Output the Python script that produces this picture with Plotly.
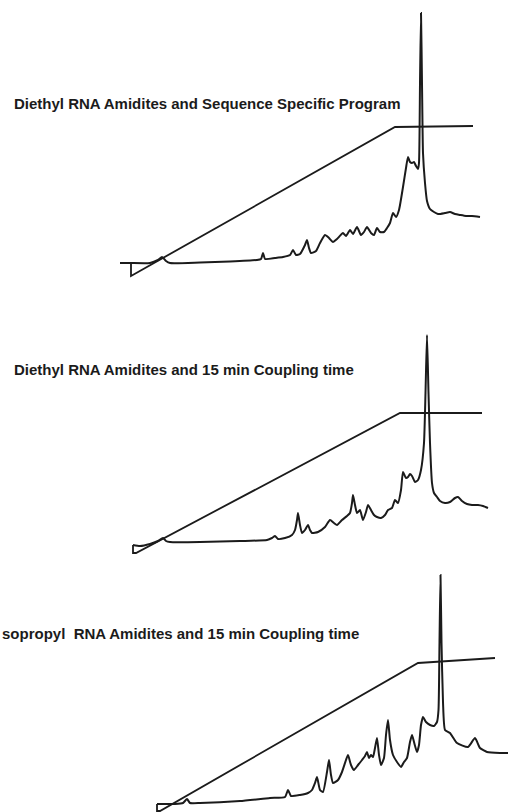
import plotly.graph_objects as go

# ---------------- data (retention time in min, detector response in mAU) ----------------
# Panel 1: Diethyl RNA amidites, sequence specific program
p1_time = [12.0, 13.0, 15.0, 15.8, 16.2, 16.6, 17.0, 20.0, 23.0, 25.7, 26.1, 26.3, 26.5, 27.5,
           28.3, 29.0, 29.3, 29.6, 30.0, 30.5, 30.7, 30.9, 31.1, 31.6, 32.0, 32.5, 32.9, 33.3,
           33.7, 34.3, 34.6, 35.0, 35.3, 35.7, 36.1, 36.4, 36.7, 37.1, 37.4, 37.7, 38.0, 38.4,
           38.7, 39.0, 39.3, 39.6, 39.9, 40.3, 40.6, 40.8, 41.0, 41.2, 41.4, 41.6, 41.8, 41.9,
           42.0, 42.1, 42.2, 42.3, 42.5, 42.7, 43.0, 43.4, 43.8, 44.5, 45.0, 45.5, 46.0, 46.6,
           47.2, 48.0]
p1_signal = [0, 0, 0, 3, 6, 2, 0, 0.5, 1.5, 3, 4, 10, 4, 5,
             6, 8, 13, 8, 9, 18, 23, 15, 10, 12, 20, 28, 25, 21,
             24, 30, 27, 33, 29, 36, 28, 31, 36, 30, 28, 35, 31, 31,
             35, 40, 50, 46, 53, 76, 95, 106, 101, 100, 101, 97, 94, 100,
             180, 250, 180, 110, 80, 62, 54, 51, 49, 50, 51, 49, 48, 47,
             47, 46]
p1_grad_time = [12.2, 13.1, 13.1, 39.5, 47.3]
p1_grad = [0, 0, -13, 136, 137]

# Panel 2: Diethyl RNA amidites, 15 min coupling time
p2_time = [13.3, 14.0, 15.0, 15.8, 16.3, 16.6, 17.0, 20.0, 24.0, 26.7, 27.2, 27.5, 27.8, 28.5,
           29.2, 29.5, 29.7, 29.8, 30.0, 30.2, 30.5, 30.8, 31.0, 31.2, 31.8, 32.5, 33.0, 33.4,
           33.7, 34.2, 34.7, 35.0, 35.2, 35.3, 35.5, 35.7, 36.0, 36.3, 36.6, 36.8, 37.1, 37.4,
           37.7, 38.1, 38.5, 38.8, 39.2, 39.5, 39.8, 40.1, 40.3, 40.6, 40.8, 41.0, 41.2, 41.5,
           41.8, 42.1, 42.4, 42.55, 42.7, 42.85, 43.0, 43.2, 43.4, 43.7, 44.0, 44.5, 45.0, 45.5,
           45.8, 46.2, 46.7, 47.2, 47.8, 48.3, 48.8]
p2_signal = [-2, -3, -1, 2, 5, 2, 1, 1, 2, 3, 5, 7, 4, 5,
             8, 13, 23, 30, 18, 10, 13, 18, 13, 10, 11, 16, 23, 20,
             18, 23, 27, 30, 40, 48, 38, 30, 33, 23, 31, 38, 33, 28,
             26, 25, 28, 33, 35, 43, 40, 53, 71, 65, 66, 69, 67, 61,
             63, 73, 100, 150, 208, 150, 100, 60, 50, 46, 42, 40, 41, 45,
             46, 42, 39, 38, 38, 37, 35]
p2_grad_time = [13.3, 13.3, 13.6, 40.0, 48.2]
p2_grad = [-2, -10, -10, 130, 130]

# Panel 3: Isopropyl RNA amidites, 15 min coupling time
p3_time = [15.7, 17.5, 18.3, 18.7, 19.0, 20.0, 24.0, 27.0, 28.5, 28.8, 29.1, 30.0, 30.8, 31.2,
           31.5, 31.7, 32.0, 32.3, 32.7, 32.9, 33.1, 33.3, 33.8, 34.2, 34.6, 34.8, 35.1, 35.4,
           35.8, 36.2, 36.5, 36.7, 36.9, 37.1, 37.3, 37.5, 37.7, 37.9, 38.1, 38.4, 38.6, 38.8,
           39.0, 39.3, 39.7, 40.1, 40.4, 40.7, 41.0, 41.2, 41.4, 41.7, 41.9, 42.1, 42.3, 42.6,
           43.0, 43.4, 43.7, 43.85, 43.95, 44.05, 44.15, 44.3, 44.5, 45.0, 45.7, 46.8, 47.5, 48.0,
           48.7, 50.0, 50.8]
p3_signal = [-2, -2, -1, 3, -1, -1, 1, 4, 5, 12, 6, 7, 9, 12,
             19, 25, 12, 10, 30, 42, 27, 19, 22, 30, 42, 47, 37, 32,
             37, 42, 46, 50, 44, 47, 45, 54, 64, 47, 37, 44, 67, 82,
             62, 47, 40, 35, 40, 44, 60, 67, 60, 50, 57, 77, 85, 80,
             77, 76, 80, 92, 160, 227, 160, 100, 72, 69, 59, 55, 64, 54,
             50, 49, 49]
p3_grad_time = [15.7, 15.7, 16.0, 41.8, 49.5]
p3_grad = [-2, -9, -9, 139, 144]

titles = [
    "Diethyl RNA Amidites and Sequence Specific Program",
    "Diethyl RNA Amidites and 15 min Coupling time",
    "sopropyl\u00a0 RNA Amidites and 15 min Coupling time",
]

# ---------------- layout constants ----------------
W, H = 508, 812
INK = "#1b1b1b"
LW = 2.0
# pixel bands (top, bottom) and baseline pixel for each panel
bands = [(0, 290, 263), (300, 560, 543), (565, 812, 802)]
title_pos = [(12, 103.5), (12, 369.5), (0, 633)]

fig = go.Figure()
series = [
    (p1_time, p1_signal, p1_grad_time, p1_grad),
    (p2_time, p2_signal, p2_grad_time, p2_grad),
    (p3_time, p3_signal, p3_grad_time, p3_grad),
]
for i, (t, s, gt, g) in enumerate(series):
    yref = "y" if i == 0 else f"y{i+1}"
    fig.add_trace(go.Scatter(x=gt, y=g, mode="lines", xaxis="x", yaxis=yref,
                             line=dict(color=INK, width=LW - 0.2), hoverinfo="skip",
                             showlegend=False))
    fig.add_trace(go.Scatter(x=t, y=s, mode="lines", xaxis="x", yaxis=yref,
                             line=dict(color=INK, width=LW, shape="spline", smoothing=0.5),
                             hoverinfo="skip", showlegend=False))

axis_common = dict(visible=False, showgrid=False, zeroline=False, fixedrange=True)
layout = dict(
    width=W, height=H,
    margin=dict(l=0, r=0, t=0, b=0),
    paper_bgcolor="white", plot_bgcolor="white",
    xaxis=dict(range=[0, W / 10], domain=[0, 1], **axis_common),
    showlegend=False,
)
for i, (top, bottom, base) in enumerate(bands):
    key = "yaxis" if i == 0 else f"yaxis{i+1}"
    layout[key] = dict(domain=[1 - bottom / H, 1 - top / H],
                       range=[base - bottom, base - top], anchor="x", **axis_common)
fig.update_layout(**layout)

for (px, py), txt in zip(title_pos, titles):
    fig.add_annotation(x=px / W, y=1 - py / H, xref="paper", yref="paper",
                       xanchor="left", yanchor="middle", showarrow=False,
                       text=f"<b>{txt}</b>",
                       font=dict(family="Liberation Sans, Arial, sans-serif", size=15, color=INK))

fig.write_html("out.html")
